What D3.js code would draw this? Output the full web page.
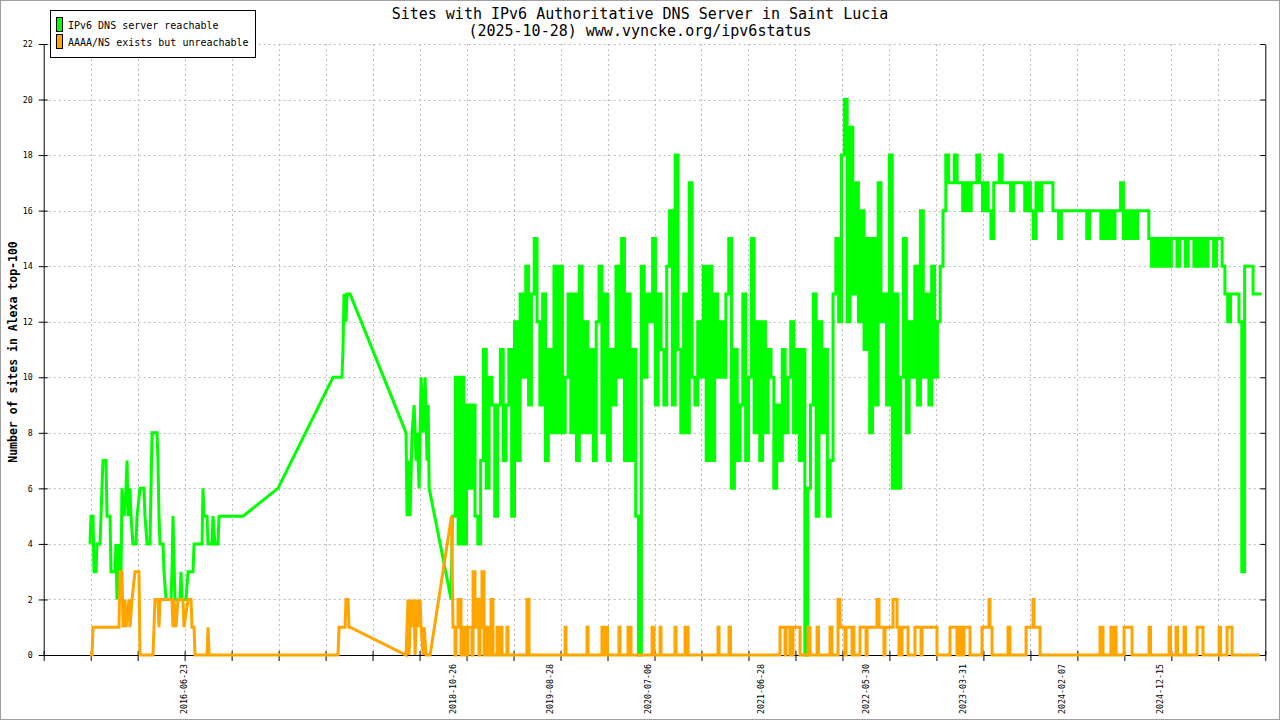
<!DOCTYPE html>
<html><head><meta charset="utf-8">
<script src="https://cdn.jsdelivr.net/npm/d3@7"></script>
<style>
body{margin:0;background:#fff;}
text{font-family:"DejaVu Sans Mono","Liberation Mono",monospace;fill:#000;}
</style>
</head><body>
<svg id="c" width="1280" height="720"></svg>
<script>
// ---------- data ----------
const titleLines = ["Sites with IPv6 Authoritative DNS Server in Saint Lucia", "(2025-10-28) www.vyncke.org/ipv6status"];
const seriesNames = ["IPv6 DNS server reachable", "AAAA/NS exists but unreachable"];
const seriesColors = ["#00ff00", "#ffa500"];
const yLabel = "Number of sites in Alexa top-100";
const yTicks = [0, 2, 4, 6, 8, 10, 12, 14, 16, 18, 20, 22];
const xMax = 1300;            // x in sample units (~3 days each)
const xTickStep = 50;
const xLabelPos = [149, 435, 538, 643, 763, 875, 978, 1083, 1188];
const xLabelText = ["2016-06-23", "2018-10-26", "2019-08-28", "2020-07-06", "2021-06-28", "2022-05-30", "2023-03-31", "2024-02-07", "2024-12-15"];

// reachable: early sparse samples [x, value]
const greenSparse = [[49.3,4],[50.3,5],[52.5,5],[53.5,3],[55.7,3],[56.7,4],[59.9,4],[61,5],[62,6],[63.1,7],[66.3,7],[67.4,5],[70.6,5],[71.6,3],[75.9,3],[76.9,4],[78,2],[79,4],[80.1,2],[81.2,4],[82.3,3],[83.3,6],[85.5,5],[87.6,6],[88.7,7],[89.7,5],[91.8,6],[92.9,5],[95,4],[98.2,4],[99.3,5],[102.5,6],[106.7,6],[107.8,5],[110,4],[113.1,4],[114.2,6],[115.3,8],[120.6,8],[121.6,7],[122.7,5],[123.8,4],[127,4],[128,3],[130.2,2],[135.5,2],[136.5,3],[137.6,5],[139.7,2],[145,2],[146.1,3],[147.2,2],[151.4,2],[153.6,3],[158.9,3],[160,4],[168.5,4],[169.5,6],[170.6,5],[173.8,5],[174.9,4],[179.1,4],[180.2,5],[182.3,4],[185.5,4],[186.6,5],[212.1,5],[249.3,6],[307.9,10],[317.4,10],[318.5,11],[319.6,13],[321.7,12],[322.8,13],[326,13],[385.6,8],[386.7,5],[388.8,7],[389.9,5],[392,8],[394.2,9],[396.3,7],[397.4,8],[399.5,6],[401.6,10],[403.8,8],[405.9,10],[408,7],[409.1,9],[410.2,6],[433.6,2]];
// reachable: dense samples, every 3 units from x = 435
const greenDenseStart = 435;
const greenDenseStep = 3;
const greenDense = [
 5,10,4,10,4,9,6,9,5,4,
 7,11,6,10,9,5,9,11,7,9,
 11,5,12,7,13,10,14,9,13,15,
 12,9,13,7,11,8,14,8,14,8,
 10,13,8,13,7,14,8,12,8,11,
 7,12,14,8,13,7,11,9,14,10,
 15,7,13,7,11,5,0,14,10,13,
 12,15,9,13,11,9,14,16,9,18,
 11,8,13,8,17,10,9,12,10,14,
 7,14,7,13,10,12,10,13,15,6,
 11,7,9,13,7,10,15,8,12,7,
 12,8,11,10,6,9,7,11,8,10,
 12,8,11,7,11,0,6,9,13,5,
 12,8,11,5,7,13,15,12,18,20,
 12,19,13,17,12,16,11,15,8,15,
 9,17,12,13,9,18,6,13,6,10,
 15,8,12,10,14,9,16,10,13,9,
 14,10,12,14,16,18,17,17,18,17,
 17,16,17,16,17,17,18,17,16,17,
 16,15,17,17,18,17,17,17,16,17,
 17,17,17,16,17,16,15,17,16,17,
 17,17,17,16,16,15,16,16,16,16,
 16,16,16,16,16,15,16,16,16,16,
 15,16,15,16,15,16,16,17,15,16,
 15,16,15,16,16,16,16,15,14,15,
 14,15,14,15,14,15,15,14,15,15,
 14,15,15,14,15,14,15,14,15,15,
 14,15,15,14,13,12,13,13,13,12,
 3,14,14,14,13,13,13
];

// unreachable: early sparse samples [x, value]
const orangeSparse = [[49.3,0],[51.4,0],[52.5,1],[80.1,1],[81.2,3],[83.3,3],[84.4,1],[86.5,2],[87.6,1],[90.8,2],[91.8,1],[94,2],[97.2,3],[101.4,3],[102.5,0],[116.3,0],[117.4,1],[118.4,2],[121.6,2],[122.7,1],[123.8,2],[136.5,2],[137.6,1],[138.6,2],[140.8,1],[142.9,2],[148.2,2],[149.3,1],[153.6,2],[156.8,2],[157.8,1],[160,1],[161,0],[173.8,0],[174.9,1],[176,0],[313.2,0],[314.3,1],[320.7,1],[321.7,2],[323.9,2],[324.9,1],[326,1],[385.6,0],[387.7,2],[388.8,0],[391,2],[392,1],[394.2,2],[395.2,0],[397.4,2],[398.5,1],[400.6,2],[401.6,1],[403.8,0],[404.8,1],[407,0],[411.2,0],[434,5]];
// unreachable: dense period, value changes [x, new value]
const orangeSteps = [[435.6,1],[437.7,0],[438.8,1],[440.9,2],[444.1,0],[446.2,1],[448.3,0],[451.5,1],[455.8,0],[456.9,3],[459.0,1],[461.1,2],[463.2,0],[464.3,1],[466.4,3],[468.6,0],[470.7,1],[472.8,0],[476.0,2],[478.1,0],[482.4,1],[484.5,0],[486.7,1],[487.7,0],[493.0,1],[494.1,0],[514.3,2],[516.5,0],[554.8,1],[555.8,0],[578.2,1],[579.3,0],[594.1,1],[595.2,0],[598.4,1],[600.0,0],[612.2,1],[613.3,0],[621.8,1],[622.9,0],[623.9,1],[625.0,0],[647.4,1],[649.5,0],[655.9,1],[656.9,0],[671.8,1],[672.9,0],[682.5,1],[685.7,0],[717.6,1],[718.7,0],[729.3,1],[730.9,0],[783.6,1],[788.9,0],[790.0,1],[794.2,0],[797.4,1],[804.9,0],[813.4,1],[815.5,0],[823.0,1],[824.5,0],[836.8,1],[838.9,0],[845.3,2],[847.4,1],[852.7,0],[853.8,1],[860.2,0],[861.3,1],[862.3,0],[868.7,1],[875.1,0],[876.2,1],[886.8,2],[888.9,1],[894.2,0],[895.3,1],[903.8,2],[908.1,1],[910.2,0],[913.4,1],[919.8,0],[927.2,1],[933.6,0],[934.7,1],[950.6,0],[964.5,1],[971.9,0],[975.1,1],[977.3,0],[979.4,1],[985.8,0],[998.5,1],[1006.0,2],[1007.0,1],[1009.2,0],[1026.2,1],[1028.3,0],[1045.4,1],[1052.8,2],[1053.9,1],[1060.3,0],[1124.1,1],[1127.3,0],[1135.8,1],[1138.0,0],[1140.1,1],[1141.2,0],[1149.7,1],[1158.2,0],[1176.3,1],[1177.9,0],[1197.6,1],[1199.1,0],[1205.0,1],[1206.6,0],[1213.5,1],[1215.1,0],[1227.4,1],[1233.7,0],[1250.8,1],[1252.4,0],[1259.3,1],[1264.6,0],[1294.4,0]];

// ---------- build point tables ----------
const greenPts = greenSparse.slice();
greenDense.forEach((v, i) => {
  const u = greenDenseStart + i * greenDenseStep;
  greenPts.push([u, v]);
  greenPts.push([u + greenDenseStep, v]);
});
const orangePts = orangeSparse.slice();
orangeSteps.forEach((p, k) => {
  if (k > 0) orangePts.push([p[0], orangeSteps[k - 1][1]]);
  orangePts.push(p);
});

// ---------- chart ----------
const svg = d3.select("#c");
const L = 43.7, R = 1265.3, T = 44, B = 655;
const x = d3.scaleLinear().domain([0, xMax]).range([L, R]);
const y = d3.scaleLinear().domain([0, 22]).range([B, T]);
const xTicks = d3.range(0, xMax + 1, xTickStep);

svg.append("rect").attr("x", 0.5).attr("y", 0.5).attr("width", 1279).attr("height", 719)
  .attr("fill", "#fff").attr("stroke", "#a0a0a0");

// grid
const grid = svg.append("g").attr("stroke", "#bdbdbd").attr("stroke-width", 1).attr("stroke-dasharray", "2,3");
grid.selectAll("line.h").data(yTicks.filter(d => d > 0)).join("line")
  .attr("x1", L).attr("x2", R).attr("y1", d => Math.round(y(d)) + 0.5).attr("y2", d => Math.round(y(d)) + 0.5);
grid.selectAll("line.v").data(xTicks.filter(d => d > 0 && d < xMax)).join("line")
  .attr("x1", d => Math.round(x(d)) + 0.5).attr("x2", d => Math.round(x(d)) + 0.5).attr("y1", T).attr("y2", B);

// axes
const yAx = svg.append("g").attr("transform", `translate(${L},0)`)
  .call(d3.axisLeft(y).tickValues(yTicks).tickSize(5).tickSizeOuter(0).tickPadding(6));
yAx.selectAll(".tick line").attr("x1", 4).attr("x2", -5);
yAx.selectAll("text").style("font-size", "8.3px");
const yAxR = svg.append("g").attr("transform", `translate(${R},0)`)
  .call(d3.axisLeft(y).tickValues(yTicks).tickFormat("").tickSize(5).tickSizeOuter(0));
const xAx = svg.append("g").attr("transform", `translate(0,${B})`)
  .call(d3.axisBottom(x).tickValues(xTicks).tickFormat("").tickSize(6).tickSizeOuter(0));
xAx.selectAll(".tick line").attr("y1", -4);
const xLab = svg.append("g").attr("transform", `translate(0,${B})`)
  .call(d3.axisBottom(x).tickValues(xLabelPos).tickFormat((d, i) => xLabelText[i]).tickSize(0));
xLab.select(".domain").remove();
xLab.selectAll("text").attr("transform", "rotate(-90)").attr("x", -9).attr("y", 0)
  .attr("dy", "0.35em").style("text-anchor", "end").style("font-size", "8.3px");
svg.selectAll(".domain").attr("stroke", "#000");
svg.selectAll(".tick line").attr("stroke", "#000");

// lines
const line = d3.line().x(d => x(d[0])).y(d => y(d[1]));
svg.append("path").datum(greenPts).attr("d", line).attr("fill", "none")
  .attr("stroke", seriesColors[0]).attr("stroke-width", 3).attr("stroke-linejoin", "miter");
svg.append("path").datum(orangePts).attr("d", line).attr("fill", "none")
  .attr("stroke", seriesColors[1]).attr("stroke-width", 3).attr("stroke-linejoin", "miter");

// y label
svg.append("text").attr("transform", "translate(17,352) rotate(-90)").attr("text-anchor", "middle")
  .style("font-size", "11.5px").style("font-weight", "bold").text(yLabel);

// title
svg.selectAll("text.title").data(titleLines).join("text").attr("class", "title")
  .attr("x", 640).attr("y", (d, i) => 19 + i * 17).attr("text-anchor", "middle")
  .style("font-size", "15px").text(d => d);

// legend
const lg = svg.append("g");
lg.append("rect").attr("x", 50.5).attr("y", 10.5).attr("width", 205).attr("height", 47)
  .attr("fill", "#fff").attr("stroke", "#000");
seriesNames.forEach((n, i) => {
  lg.append("rect").attr("x", 56.5).attr("y", 17.5 + i * 17).attr("width", 6).attr("height", 14)
    .attr("fill", seriesColors[i]).attr("stroke", "#000");
  lg.append("text").attr("x", 68).attr("y", 29 + i * 17).style("font-size", "10px").text(n);
});
</script>
</body></html>
